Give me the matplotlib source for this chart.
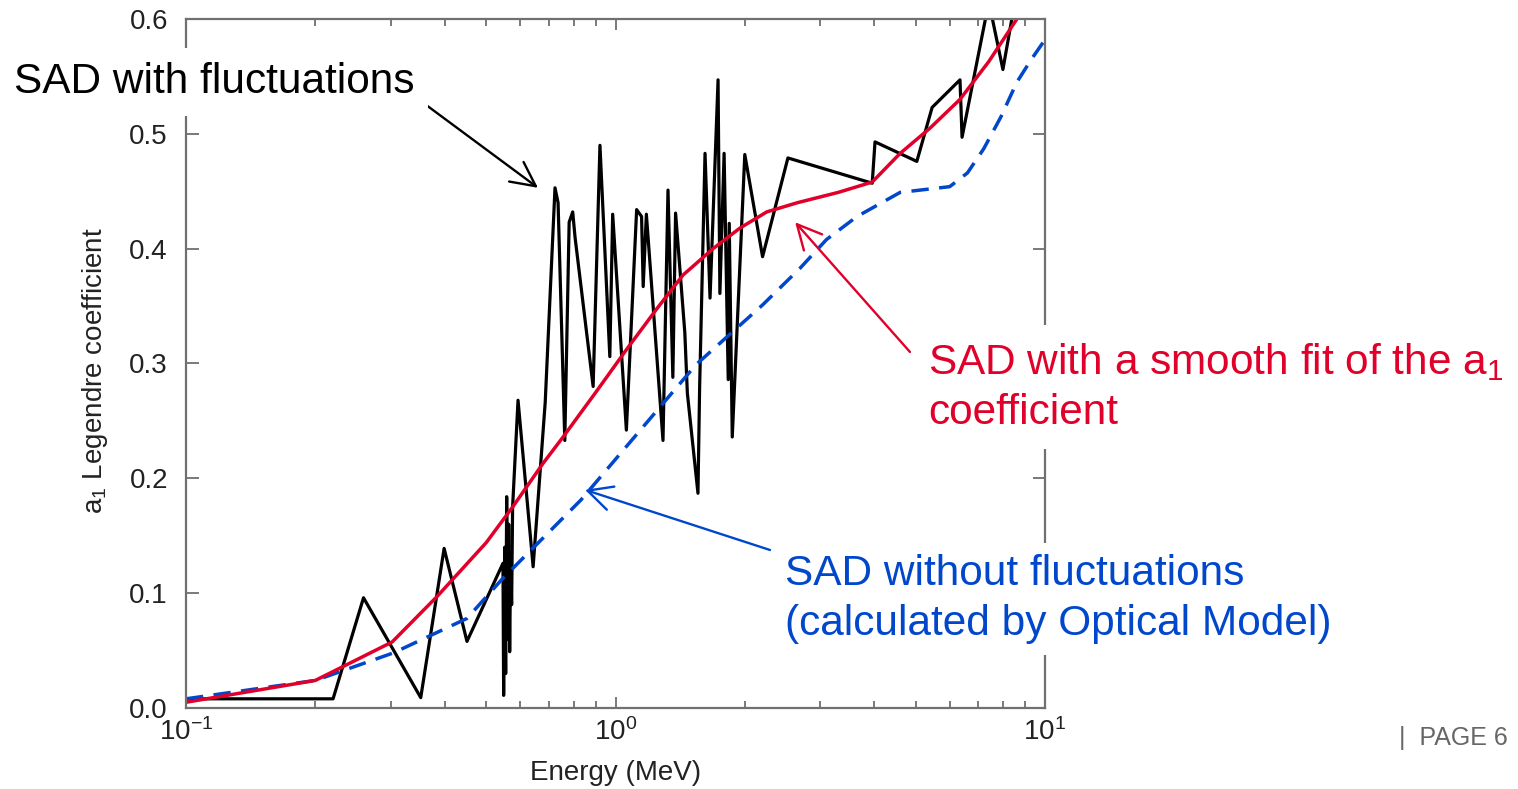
import numpy as np
import matplotlib
matplotlib.use('Agg')
import matplotlib.pyplot as plt
from matplotlib.ticker import FormatStrFormatter, LogLocator, FixedLocator

plt.rcParams['font.family'] = ['Liberation Sans', 'DejaVu Sans']
plt.rcParams['mathtext.default'] = 'regular'

# SAD with fluctuations (black)
E_fl = [0.100, 0.220, 0.259, 0.352, 0.399, 0.451, 0.547, 0.549, 0.552, 0.555,
        0.558, 0.561, 0.564, 0.567, 0.570, 0.573, 0.576, 0.593, 0.643, 0.686,
        0.723, 0.735, 0.762, 0.780, 0.795, 0.805, 0.887, 0.920, 0.970, 0.985,
        1.06, 1.12, 1.15, 1.16, 1.18, 1.29, 1.325, 1.36, 1.38, 1.45,
        1.47, 1.556, 1.57, 1.616, 1.66, 1.733, 1.75, 1.79, 1.83, 1.84,
        1.87, 2.00, 2.20, 2.52, 3.96, 4.02, 5.03, 5.46, 6.34, 6.41,
        7.40, 7.98, 8.60, 10.0]
a_fl = [0.008, 0.008, 0.096, 0.009, 0.139, 0.058, 0.126, 0.011, 0.140, 0.030,
        0.184, 0.060, 0.160, 0.049, 0.130, 0.090, 0.175, 0.268, 0.123, 0.266,
        0.453, 0.440, 0.233, 0.423, 0.432, 0.410, 0.280, 0.490, 0.306, 0.430,
        0.242, 0.434, 0.428, 0.367, 0.430, 0.233, 0.451, 0.288, 0.431, 0.327,
        0.274, 0.187, 0.280, 0.483, 0.357, 0.547, 0.361, 0.483, 0.286, 0.422,
        0.236, 0.482, 0.393, 0.479, 0.457, 0.493, 0.476, 0.523, 0.547, 0.497,
        0.615, 0.556, 0.625, 0.670]

# SAD with smooth fit of a1 (red)
E_fit = [0.1, 0.2, 0.302, 0.384, 0.5, 0.576, 0.678, 0.755, 0.9, 1.06, 1.25,
         1.436, 1.687, 1.95, 2.25, 2.65, 3.3, 3.96, 4.6, 5.4, 6.34, 7.4, 8.6, 10.0]
a_fit = [0.005, 0.024, 0.0575, 0.097, 0.144, 0.175, 0.213, 0.236, 0.275, 0.312,
         0.348, 0.377, 0.400, 0.418, 0.432, 0.440, 0.449, 0.458, 0.483, 0.505,
         0.530, 0.563, 0.600, 0.635]

# SAD without fluctuations, optical model (blue dashed)
E_om = [0.1, 0.2, 0.304, 0.451, 0.547, 0.83, 1.54, 2.2, 2.69, 3.1, 3.65,
        4.6, 6.0, 6.6, 7.2, 7.9, 8.6, 9.3, 10.0]
a_om = [0.008, 0.024, 0.048, 0.078, 0.113, 0.181, 0.299, 0.351, 0.383, 0.408,
        0.428, 0.449, 0.454, 0.466, 0.487, 0.515, 0.545, 0.565, 0.582]

red = '#E0002A'
blue = '#0047CC'
frame = '#707070'

fig = plt.figure(figsize=(15.18, 7.89), dpi=100)
ax = fig.add_axes([186/1518, 1-708/789, (1045-186)/1518, (708-19)/789])

ax.plot(E_fl, a_fl, color='black', lw=2.3, zorder=2)
ax.plot(E_om, a_om, color=blue, lw=2.5, dashes=(5, 3), zorder=2.1)
ax.plot(E_fit, a_fit, color=red, lw=2.5, zorder=2.2)

ax.set_xscale('log')
ax.set_xlim(0.1, 10)
ax.set_ylim(0, 0.6)
ax.yaxis.set_major_locator(FixedLocator([0, 0.1, 0.2, 0.3, 0.4, 0.5, 0.6]))
ax.yaxis.set_major_formatter(FormatStrFormatter('%.1f'))
ax.xaxis.set_major_locator(LogLocator(base=10))
ax.xaxis.set_minor_locator(LogLocator(base=10, subs=np.arange(2, 10)))

for s in ax.spines.values():
    s.set_color(frame)
    s.set_linewidth(1.6)
ax.tick_params(which='both', direction='in', top=True, right=True, color=frame,
               width=1.3, labelsize=20, labelcolor='#222222')
ax.tick_params(axis='y', which='major', length=9, pad=13)
ax.tick_params(axis='x', which='major', length=8, pad=7)
ax.tick_params(axis='x', which='minor', length=5)

ax.set_xlabel('Energy (MeV)', fontsize=20, color='#222222')
ax.set_ylabel('a$_1$ Legendre coefficient', fontsize=20, color='#222222')
ax.xaxis.set_label_coords(0.5, -0.094)
ax.xaxis.label.set_va('center')
ax.yaxis.set_label_coords(-0.106, 0.49)
ax.yaxis.label.set_va('center')

# annotations
fig.text(14/1518, 1-82/789, 'SAD with fluctuations', fontsize=30.5, color='black',
         ha='left', va='center', bbox=dict(facecolor='white', edgecolor='none', pad=10),
         zorder=5)
fig.text(928/1518, 1-387/789, 'SAD with a smooth fit of the a$_1$\ncoefficient',
         fontsize=30.5, color=red, ha='left', va='center', linespacing=1.3,
         bbox=dict(facecolor='white', edgecolor='none', pad=12), zorder=5)
fig.text(785/1518, 1-599/789, 'SAD without fluctuations\n(calculated by Optical Model)',
         fontsize=30.5, color=blue, ha='left', va='center', linespacing=1.3,
         bbox=dict(facecolor='white', edgecolor='none', pad=8), zorder=5)
fig.text(1508/1518, 1-738/789, '|  PAGE 6', fontsize=18, color='#666666',
         ha='right', va='center')

arrow_kw = dict(arrowstyle='->,head_length=0.7,head_width=0.35', lw=1.7,
                mutation_scale=25, shrinkA=0, shrinkB=0)
ax.annotate('', xy=(0.66, 0.453), xycoords='data',
            xytext=(414/1518, 1-96/789), textcoords='figure fraction',
            arrowprops=dict(color='black', **arrow_kw), annotation_clip=False)
ax.annotate('', xy=(2.62, 0.423), xycoords='data',
            xytext=(910/1518, 1-352/789), textcoords='figure fraction',
            arrowprops=dict(color=red, **arrow_kw), annotation_clip=False)
ax.annotate('', xy=(0.849, 0.19), xycoords='data',
            xytext=(770/1518, 1-550/789), textcoords='figure fraction',
            arrowprops=dict(color=blue, **arrow_kw), annotation_clip=False)

fig.savefig('out.png', dpi=100)
